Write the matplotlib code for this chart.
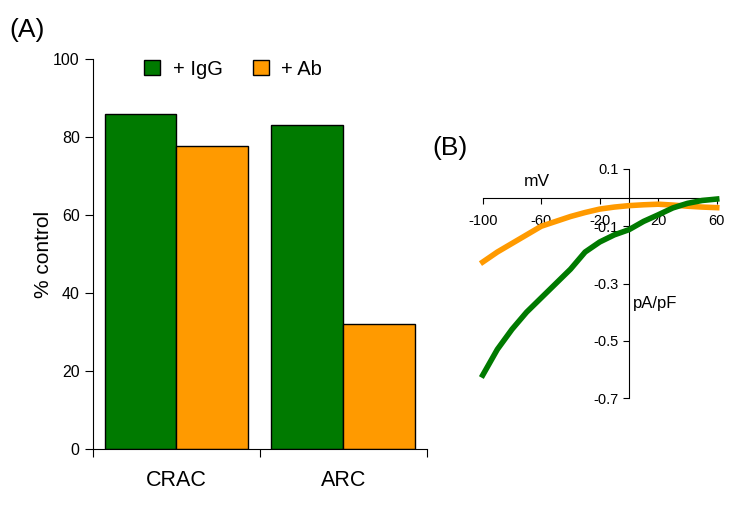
import matplotlib
matplotlib.use("Agg")
import matplotlib.pyplot as plt
import numpy as np

plt.rcParams['font.family'] = ['Liberation Sans', 'DejaVu Sans']
plt.rcParams['axes.unicode_minus'] = False

# Panel A data
categories = ["CRAC", "ARC"]
igg_values = [85.8, 83.2]
ab_values = [77.6, 32.0]
green = "#007a00"
orange = "#ff9a00"

# Panel B data (I-V traces)
voltage = [-100, -90, -80, -70, -60, -50, -40, -30, -20, -10, 0, 10, 20, 30, 40, 50, 60]
igg_current = [-0.62, -0.53, -0.46, -0.40, -0.35, -0.30, -0.25, -0.19, -0.155, -0.13,
               -0.112, -0.083, -0.06, -0.036, -0.02, -0.01, -0.005]
ab_current = [-0.225, -0.19, -0.16, -0.13, -0.10, -0.083, -0.066, -0.052, -0.04, -0.033,
              -0.028, -0.025, -0.023, -0.026, -0.03, -0.033, -0.035]

fig = plt.figure(figsize=(7.37, 5.09), dpi=100)

# ---- Panel A ----
ax = fig.add_axes([0.126, 0.118, 0.453, 0.766])
x = np.arange(len(categories)) + 0.5
w = 0.43
ax.bar(x - w / 2, igg_values, w, color=green, edgecolor="black", linewidth=1, label="+ IgG")
ax.bar(x + w / 2, ab_values, w, color=orange, edgecolor="black", linewidth=1, label="+ Ab")
ax.set_xlim(0, 2)
ax.set_ylim(0, 100)
ax.set_yticks([0, 20, 40, 60, 80, 100])
ax.set_xticks([0, 1, 2])
ax.set_xticklabels([])
ax.set_xticks(x, minor=True)
ax.set_xticklabels(categories, minor=True, fontsize=15.5)
ax.tick_params(axis="x", which="minor", length=0, pad=15)
ax.tick_params(axis="x", which="major", length=6, direction="out")
ax.tick_params(axis="y", length=6, labelsize=11.5)
for s in ["top", "right"]:
    ax.spines[s].set_visible(False)
ax.set_ylabel("% control", fontsize=15, labelpad=0)
ax.legend(loc="upper left", bbox_to_anchor=(0.1, 1.045), ncol=2, frameon=False,
          fontsize=14.5, handlelength=0.8, handleheight=0.8, columnspacing=1.5,
          handletextpad=0.6)
fig.text(0.013, 0.928, "(A)", fontsize=19)

# ---- Panel B ----
bx = fig.add_axes([0.655, 0.218, 0.3175, 0.450])
bx.plot(voltage, ab_current, color=orange, linewidth=4, zorder=3, clip_on=False)
bx.plot(voltage, igg_current, color=green, linewidth=4, zorder=3, clip_on=False)
bx.set_xlim(-100, 60)
bx.set_ylim(-0.7, 0.1)
bx.spines["left"].set_position(("data", 0))
bx.spines["bottom"].set_position(("data", 0))
bx.spines["top"].set_visible(False)
bx.spines["right"].set_visible(False)
bx.set_xticks([-100, -60, -20, 20, 60])
bx.set_yticks([0.1, -0.1, -0.3, -0.5, -0.7])
bx.set_yticklabels(["0.1", "-0.1", "-0.3", "-0.5", "-0.7"])
bx.tick_params(axis="both", labelsize=10.5, length=4)
bx.tick_params(axis="x", pad=8)
bx.text(-63, 0.055, "mV", fontsize=12.5, ha="center", va="center")
bx.text(3, -0.37, "pA/pF", fontsize=12, ha="left", va="center")
fig.text(0.587, 0.696, "(B)", fontsize=19)

fig.savefig("out.png", dpi=100)
